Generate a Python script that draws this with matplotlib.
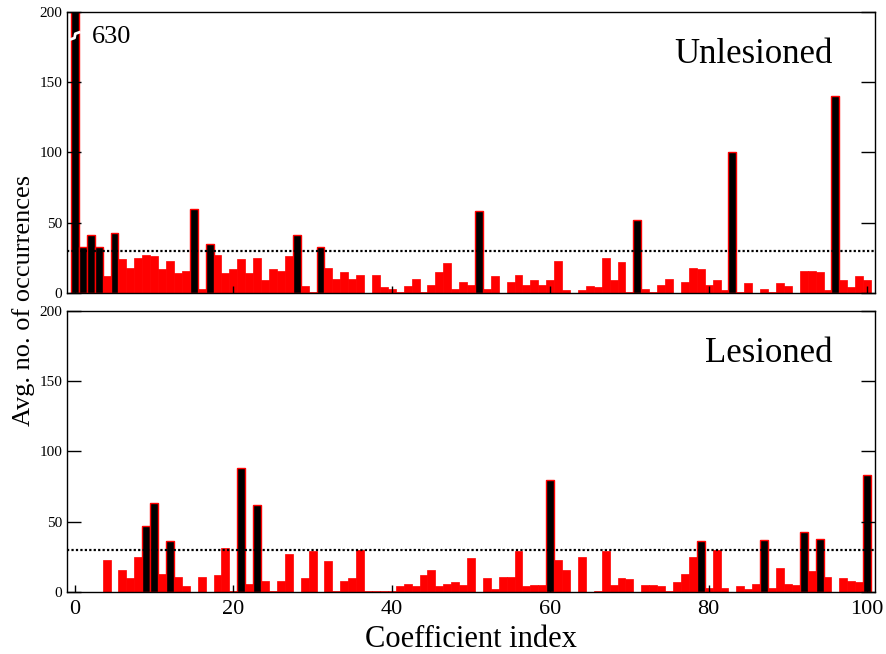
import numpy as np
import matplotlib
matplotlib.use("Agg")
import matplotlib.pyplot as plt

plt.rcParams['font.family'] = ['Liberation Serif', 'DejaVu Serif']

unlesioned = [630, 33, 41, 33, 12, 43, 24, 18, 25, 27,
              26, 17, 23, 14, 16, 60, 3, 35, 27, 14,
              17, 24, 14, 25, 9, 17, 16, 26, 41, 5,
              1, 33, 18, 10, 15, 10, 13, 0, 13, 4,
              3, 1, 5, 10, 1, 6, 15, 21, 3, 8,
              6, 58, 3, 12, 0, 8, 13, 6, 9, 6,
              9, 23, 2, 0, 2, 5, 4, 25, 9, 22,
              1, 52, 3, 1, 6, 10, 0, 8, 18, 17,
              6, 9, 2, 100, 1, 7, 0, 3, 1, 7,
              5, 0, 16, 16, 15, 2, 140, 9, 4, 12,
              9]
lesioned = [0, 0, 0, 0, 23, 0, 16, 10, 25, 47,
            63, 13, 36, 11, 4, 0, 11, 0, 12, 31,
            1, 88, 6, 62, 8, 1, 8, 27, 0, 10,
            29, 0, 22, 0.5, 8, 10, 30, 1, 1, 1,
            1, 4, 6, 4, 12, 16, 4, 6, 7, 5,
            24, 0, 10, 2, 11, 11, 29, 4, 5, 5,
            80, 23, 16, 0, 25, 0, 1, 29, 5, 10,
            9, 0, 5, 5, 4, 1, 7, 13, 25, 36,
            3, 30, 3, 0, 4, 2, 6, 37, 3, 17,
            6, 5, 43, 15, 38, 11, 0, 10, 8, 7,
            83]
highlight_unlesioned = [0, 1, 2, 3, 5, 15, 17, 28, 31, 51, 71, 83, 96]
highlight_lesioned = [9, 10, 12, 21, 23, 60, 79, 87, 92, 94, 100]
threshold = 30
panel_titles = ["Unlesioned", "Lesioned"]
yticks = [0, 50, 100, 150, 200]
xticks = [0, 20, 40, 60, 80, 100]
clipped_label = "630"

fig = plt.figure(figsize=(8.86, 6.54), dpi=100)
ax_top = fig.add_axes([0.0756, 0.552, 0.912, 0.4297])
ax_bot = fig.add_axes([0.0756, 0.0948, 0.912, 0.4297])

for ax, vals, hl, title, ty in [(ax_top, unlesioned, highlight_unlesioned, panel_titles[0], 0.847),
                                (ax_bot, lesioned, highlight_lesioned, panel_titles[1], 0.85)]:
    x = np.arange(len(vals))
    vals = np.array(vals, dtype=float)
    red_idx = [i for i in x if i not in hl]
    ax.bar(x[red_idx], vals[red_idx], width=1.0, color='#ff0000',
           edgecolor='#ff0000', linewidth=0.5, zorder=1)
    ax.bar(x[hl], vals[hl], width=1.0, color='black',
           edgecolor='#ff0000', linewidth=1.0, zorder=1.2)
    ax.axhline(threshold, color='black', linestyle=(0, (1, 1)), linewidth=1.6, zorder=3)
    ax.set_xlim(-1, 101)
    ax.set_ylim(0, 200)
    ax.set_yticks(yticks)
    ax.set_xticks(xticks)
    ax.tick_params(axis='y', direction='in', length=10, width=1, right=True,
                   labelsize=11)
    ax.tick_params(axis='x', direction='in', length=5, width=1, labelsize=16, pad=6)
    for s in ax.spines.values():
        s.set_linewidth(1.0)
    ax.text(0.947, ty, title, transform=ax.transAxes, ha='right', va='center',
            fontsize=25)

ax_top.tick_params(axis='x', labelbottom=False)

# break mark on the clipped first bar
ax_top.plot([-0.55, -0.05, 0.05, 0.55], [180.5, 181.5, 184.5, 185.5], color='white',
            linewidth=2, clip_on=False, zorder=4)
ax_top.text(2.1, 182, clipped_label, ha='left', va='center', fontsize=19)

ax_bot.set_xlabel("Coefficient index", fontsize=22, labelpad=4)
fig.text(0.026, 0.541, "Avg. no. of occurrences", rotation=90, ha='center', va='center',
         fontsize=19)

fig.savefig("out.png", dpi=100)
